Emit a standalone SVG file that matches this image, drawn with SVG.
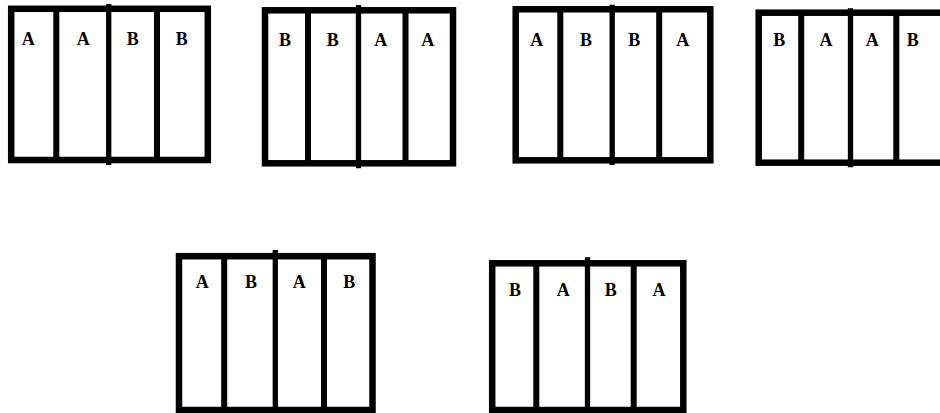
<svg xmlns="http://www.w3.org/2000/svg" width="940" height="413" viewBox="0 0 940 413">
<style>
.frame{fill:#fff;stroke:#000;stroke-width:6.5}
.div{stroke:#000;stroke-width:6}
.mid{stroke:#000;stroke-width:5.3}
.lbl{font-family:"Liberation Serif","Times New Roman",serif;font-weight:bold;font-size:18px;fill:#000;text-anchor:middle}
</style>
<rect width="940" height="413" fill="#fff"/>
<g id="box1">
<rect class="frame" x="11.2" y="8.8" width="196.6" height="151.2"/>
<line class="div" x1="56.3" y1="9" x2="56.3" y2="160"/>
<line class="mid" x1="108.7" y1="4" x2="108.7" y2="165"/>
<line class="div" x1="157" y1="9" x2="157" y2="160"/>
<text class="lbl" x="28.3" y="45">A</text>
<text class="lbl" x="83.3" y="45">A</text>
<text class="lbl" x="132.7" y="45">B</text>
<text class="lbl" x="181.7" y="45">B</text>
</g>
<g id="box2">
<rect class="frame" x="265" y="10.3" width="188" height="153"/>
<line class="div" x1="308" y1="10" x2="308" y2="163"/>
<line class="mid" x1="358.5" y1="5" x2="358.5" y2="168.3"/>
<line class="div" x1="405.5" y1="10" x2="405.5" y2="163"/>
<text class="lbl" x="285" y="45.7">B</text>
<text class="lbl" x="332.7" y="45.7">B</text>
<text class="lbl" x="380.7" y="45.7">A</text>
<text class="lbl" x="427.7" y="45.7">A</text>
</g>
<g id="box3">
<rect class="frame" x="515.7" y="9.3" width="194.6" height="151"/>
<line class="div" x1="560.3" y1="9" x2="560.3" y2="160"/>
<line class="mid" x1="612.2" y1="4.7" x2="612.2" y2="165"/>
<line class="div" x1="659.2" y1="9" x2="659.2" y2="160"/>
<text class="lbl" x="536.7" y="45.7">A</text>
<text class="lbl" x="586" y="45.7">B</text>
<text class="lbl" x="634.3" y="45.7">B</text>
<text class="lbl" x="682.7" y="45.7">A</text>
</g>
<g id="box4">
<rect class="frame" x="758.7" y="12.7" width="200" height="150"/>
<line class="div" x1="801.2" y1="12" x2="801.2" y2="163"/>
<line class="mid" x1="850.5" y1="8.3" x2="850.5" y2="167.3"/>
<line class="div" x1="896.3" y1="12" x2="896.3" y2="163"/>
<text class="lbl" x="779.3" y="46">B</text>
<text class="lbl" x="826" y="46">A</text>
<text class="lbl" x="872.3" y="46">A</text>
<text class="lbl" x="912.7" y="46">B</text>
</g>
<g id="box5">
<rect class="frame" x="179" y="256.2" width="193.5" height="153.8"/>
<line class="div" x1="224.2" y1="256" x2="224.2" y2="410"/>
<line class="mid" x1="275.3" y1="250" x2="275.3" y2="413"/>
<line class="div" x1="324" y1="256" x2="324" y2="410"/>
<text class="lbl" x="202.3" y="287.5">A</text>
<text class="lbl" x="251" y="287.5">B</text>
<text class="lbl" x="299.3" y="287.5">A</text>
<text class="lbl" x="349.3" y="287.5">B</text>
</g>
<g id="box6">
<rect class="frame" x="492.2" y="263.3" width="191.1" height="146.7"/>
<line class="div" x1="536.3" y1="263" x2="536.3" y2="410"/>
<line class="mid" x1="587.5" y1="257.3" x2="587.5" y2="413"/>
<line class="div" x1="633.7" y1="263" x2="633.7" y2="410"/>
<text class="lbl" x="515" y="295.7">B</text>
<text class="lbl" x="563.3" y="295.7">A</text>
<text class="lbl" x="610.7" y="295.7">B</text>
<text class="lbl" x="659" y="295.7">A</text>
</g>
<g id="connectors"/>
</svg>
